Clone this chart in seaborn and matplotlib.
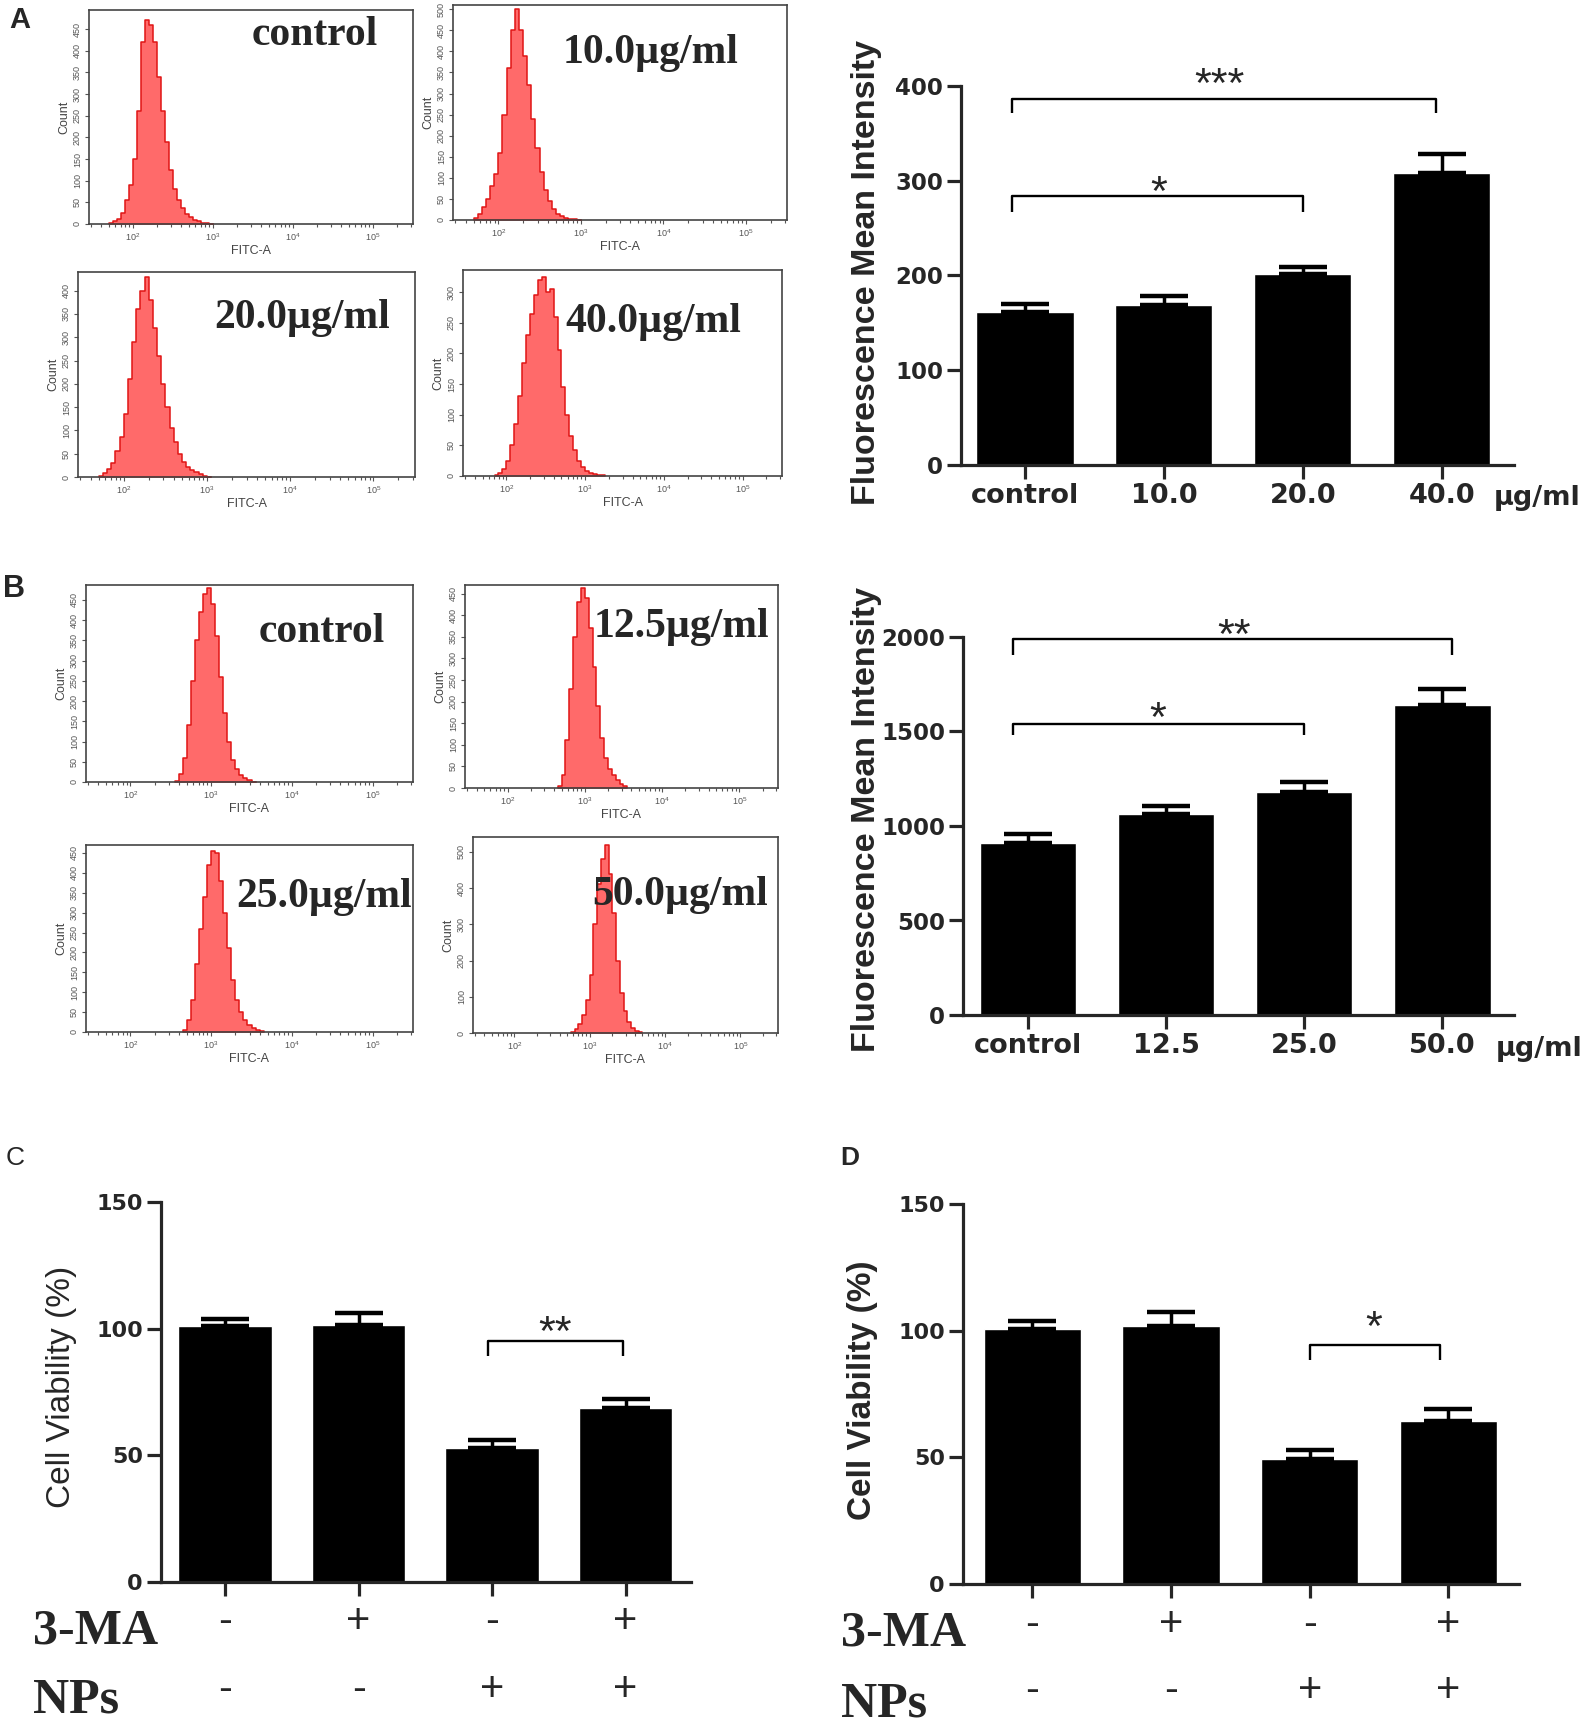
import numpy as np
import pandas as pd
import seaborn as sns
import matplotlib.pyplot as plt
from matplotlib import transforms

W, H = 1594, 1726

# flow cytometry histograms: counts per log10(FITC-A) bin, bin width 0.05
hist_bw = 0.05
a_ctrl_start = 1.70
a_ctrl_counts = [2, 6, 12, 25, 55, 90, 150, 260, 420, 470, 460, 420, 340, 260, 190,
                 125, 80, 55, 38, 24, 16, 10, 6, 3, 2, 1]
a_10_start = 1.70
a_10_counts = [5, 15, 30, 50, 80, 110, 160, 250, 360, 450, 500, 450, 390, 320, 240,
               170, 115, 70, 45, 25, 15, 9, 5, 3, 2, 1]
a_20_start = 1.70
a_20_counts = [2, 8, 18, 30, 55, 85, 135, 210, 290, 360, 400, 430, 380, 320, 260,
               200, 150, 105, 75, 50, 33, 22, 15, 10, 6, 3, 1]
a_40_start = 1.85
a_40_counts = [2, 5, 12, 25, 50, 85, 130, 185, 230, 265, 295, 320, 325, 300, 305,
               260, 205, 145, 100, 65, 42, 25, 15, 8, 5, 3, 2, 1]
b_ctrl_start = 2.55
b_ctrl_counts = [3, 20, 60, 140, 250, 350, 420, 465, 480, 440, 360, 260, 170, 100,
                 55, 32, 18, 9, 4, 1]
b_12_start = 2.65
b_12_counts = [5, 30, 110, 230, 350, 430, 462, 440, 370, 280, 190, 115, 70, 45, 30,
               18, 10, 4]
b_25_start = 2.65
b_25_counts = [5, 30, 80, 170, 260, 340, 420, 455, 450, 380, 300, 210, 130, 80, 50,
               30, 18, 10, 5, 2]
b_50_start = 2.75
b_50_counts = [3, 10, 25, 50, 90, 160, 300, 410, 480, 520, 440, 330, 200, 110, 60,
               30, 14, 6, 2]

# bar charts
a_groups = ['control', '10.0', '20.0', '40.0']
a_means = [161, 169, 202, 308]
a_sd = [9, 9, 7, 20]
b_groups = ['control', '12.5', '25.0', '50.0']
b_means = [911, 1063, 1180, 1640]
b_sd = [49, 42, 52, 85]
cd_groups = ['ctrl', '3-MA', 'NPs', '3-MA+NPs']
c_means = [101, 101.5, 53, 68.6]
c_sd = [3, 4.5, 3, 3.7]
d_means = [100.5, 102, 49.4, 64.4]
d_sd = [3.2, 5.2, 3.3, 4.5]
ma_signs = ['-', '+', '-', '+']
nps_signs = ['-', '-', '+', '+']

sns.set_style('ticks')
plt.rcParams['font.family'] = ['Liberation Sans', 'DejaVu Sans']
plt.rcParams['mathtext.fontset'] = 'custom'
plt.rcParams['mathtext.rm'] = 'Liberation Sans'

fig = plt.figure(figsize=(15.94, 17.26), dpi=100)


def px_axes(l, t, r, b):
    return fig.add_axes([l / W, 1 - b / H, (r - l) / W, (b - t) / H])


def flow_hist(box, start, counts, ymax, ystep, label, lx, ly):
    ax = px_axes(*box)
    edges = start + hist_bw * np.arange(len(counts) + 1)
    df = pd.DataFrame({'fitc': edges[:-1] + hist_bw / 2, 'count': counts})
    sns.histplot(data=df, x='fitc', weights='count', bins=edges.tolist(), element='step',
                 fill=True, color='#ff6a6a', alpha=1, edgecolor='#e01515',
                 linewidth=1.1, ax=ax)
    ax.set_xlim(1.45, 5.5)
    ax.set_ylim(0, ymax)
    ax.set_xticks([2, 3, 4, 5])
    ax.set_xticklabels(['$10^2$', '$10^3$', '$10^4$', '$10^5$'])
    minor = [np.log10(k * 10.0 ** d) for d in range(1, 6) for k in range(2, 10)]
    ax.set_xticks([m for m in minor if 1.45 < m < 5.5], minor=True)
    ax.set_yticks(np.arange(0, ymax, ystep))
    ax.tick_params(axis='both', which='both', direction='out', colors='#555555',
                   labelsize=6.5, length=3, width=0.8, pad=2)
    ax.tick_params(axis='x', which='minor', length=2)
    ax.tick_params(axis='y', labelrotation=90)
    for t in ax.get_yticklabels():
        t.set_va('center')
    ax.set_xlabel('FITC-A', fontsize=9, color='#444444', labelpad=2)
    ax.set_ylabel('Count', fontsize=9, color='#444444', labelpad=2)
    for s in ax.spines.values():
        s.set_visible(True)
        s.set_color('#444444')
        s.set_linewidth(1.2)
    fig.text(lx / W, 1 - ly / H, label, fontfamily='Liberation Serif',
             fontweight='bold', fontsize=30, ha='center', va='baseline')


def bracket(ax, x0, x1, y, drop, text, tx, ty, size=31):
    ax.plot([x0, x0, x1, x1], [y - drop, y, y, y - drop], color='black', lw=1.7,
            clip_on=False, solid_capstyle='butt')
    ax.annotate(text, xy=(tx, ty), xytext=(0, -0.42 * size), textcoords='offset points',
                ha='center', va='baseline', fontsize=size, annotation_clip=False)


def bar_panel(box, groups, means, sd, ymax, ystep, xlim, ylabel, lab_size, lab_xy,
              lab_weight='bold', tick_size=16.5):
    ax = px_axes(*box)
    df = pd.DataFrame({'group': groups, 'value': means})
    sns.barplot(data=df, x='group', y='value', color='black', saturation=1,
                width=0.7, ax=ax)
    ax.errorbar(np.arange(len(groups)), means, yerr=[np.zeros(len(sd)), sd],
                fmt='none', ecolor='black', elinewidth=2.5, capsize=17, capthick=3.2)
    ax.set_ylim(0, ymax)
    ax.set_xlim(*xlim)
    ax.set_yticks(np.arange(0, ymax + 1, ystep))
    sns.despine(ax=ax)
    for s in ('left', 'bottom'):
        ax.spines[s].set_linewidth(2.3)
    ax.tick_params(axis='y', width=2.3, length=10, labelsize=tick_size, pad=3)
    ax.tick_params(axis='x', width=2.3, length=10, labelsize=19.5, pad=3)
    plt.setp(ax.get_yticklabels(), fontweight='bold', fontfamily='DejaVu Sans')
    plt.setp(ax.get_xticklabels(), fontweight='bold', fontfamily='DejaVu Sans')
    ax.set_xlabel('')
    ax.set_ylabel(ylabel, fontsize=lab_size, fontweight=lab_weight)
    ax.yaxis.label.set_va('center')
    ax.yaxis.set_label_coords(*lab_xy)
    return ax


# panel A histograms
flow_hist((89, 10, 413, 224), a_ctrl_start, a_ctrl_counts, 494, 50, 'control', 315, 45)
flow_hist((453, 5, 787, 220), a_10_start, a_10_counts, 510, 50, '10.0µg/ml', 651, 63)
flow_hist((78, 272, 415, 477), a_20_start, a_20_counts, 440, 50, '20.0µg/ml', 302, 328)
flow_hist((463, 270, 782, 476), a_40_start, a_40_counts, 336, 50, '40.0µg/ml', 653, 332)

# panel B histograms
flow_hist((86, 585, 413, 782), b_ctrl_start, b_ctrl_counts, 487, 50, 'control', 322, 642)
flow_hist((465, 585, 778, 788), b_12_start, b_12_counts, 470, 50, '12.5µg/ml', 681, 637)
flow_hist((86, 845, 413, 1032), b_25_start, b_25_counts, 470, 50, '25.0µg/ml', 324, 907)
flow_hist((473, 837, 778, 1033), b_50_start, b_50_counts, 541, 100, '50.0µg/ml', 680, 905)

# panel A bars
ax_a = bar_panel((961, 86, 1514, 465), a_groups, a_means, a_sd, 400, 100, (-0.46, 3.52),
                 'Fluorescence Mean Intensity', 24.5, (-0.17, 0.509))
bracket(ax_a, -0.09, 2.96, 386, 15, '***', 1.40, 408)
bracket(ax_a, -0.09, 2.0, 284, 17, '*', 0.96, 293)

# panel B bars
ax_b = bar_panel((963, 637, 1514, 1015), b_groups, b_means, b_sd, 2000, 500, (-0.47, 3.52),
                 'Fluorescence Mean Intensity', 24.5, (-0.176, 0.516))
bracket(ax_b, -0.11, 3.07, 1988, 85, '**', 1.49, 2035)
bracket(ax_b, -0.11, 2.0, 1538, 58, '*', 0.94, 1597)

for ax, ux, uy in ((ax_a, 3.69, -0.087), (ax_b, 3.70, -0.09)):
    tr = transforms.blended_transform_factory(ax.transData, ax.transAxes)
    ax.text(ux, uy, 'µg/ml', transform=tr, fontsize=19.5, fontweight='bold',
            fontfamily='DejaVu Sans', ha='center', va='center')

# panels C and D
ax_c = bar_panel((161, 1202, 691, 1582), cd_groups, c_means, c_sd, 150, 50, (-0.48, 3.49),
                 'Cell Viability (%)', 24, (-0.187, 0.513), lab_weight='normal', tick_size=16)
bracket(ax_c, 1.97, 2.98, 95.3, 6, '**', 2.47, 100.7)
ax_d = bar_panel((963, 1204, 1519, 1584), cd_groups, d_means, d_sd, 150, 50, (-0.5, 3.51),
                 'Cell Viability (%)', 24, (-0.18, 0.51), tick_size=16)
bracket(ax_d, 2.0, 2.94, 94.5, 6, '*', 2.46, 103.6)

for ax, x0, rows in ((ax_c, 33, (1643, 1712, 1622, 1690)),
                     (ax_d, 841, (1645, 1716, 1625, 1691))):
    ax.set_xticklabels([])
    tr = transforms.blended_transform_factory(ax.transData, fig.transFigure)
    fig.text(x0 / W, 1 - rows[0] / H, '3-MA', fontfamily='Liberation Serif',
             fontweight='bold', fontsize=36, ha='left', va='baseline')
    fig.text(x0 / W, 1 - rows[1] / H, 'NPs', fontfamily='Liberation Serif',
             fontweight='bold', fontsize=36, ha='left', va='baseline')
    for i, (m, n) in enumerate(zip(ma_signs, nps_signs)):
        ax.text(i, 1 - rows[2] / H, m, transform=tr, ha='center', va='center', fontsize=30)
        ax.text(i, 1 - rows[3] / H, n, transform=tr, ha='center', va='center', fontsize=30)

# panel letters
for letter, x, y, size, weight in (('A', 20, 20, 21, 'bold'), ('B', 14, 589, 22, 'bold'),
                                   ('C', 15, 1158, 19, 'normal'), ('D', 850, 1158, 19, 'bold')):
    fig.text(x / W, 1 - y / H, letter, fontsize=size, fontweight=weight,
             ha='center', va='center')

fig.savefig('out.png', dpi=100)
